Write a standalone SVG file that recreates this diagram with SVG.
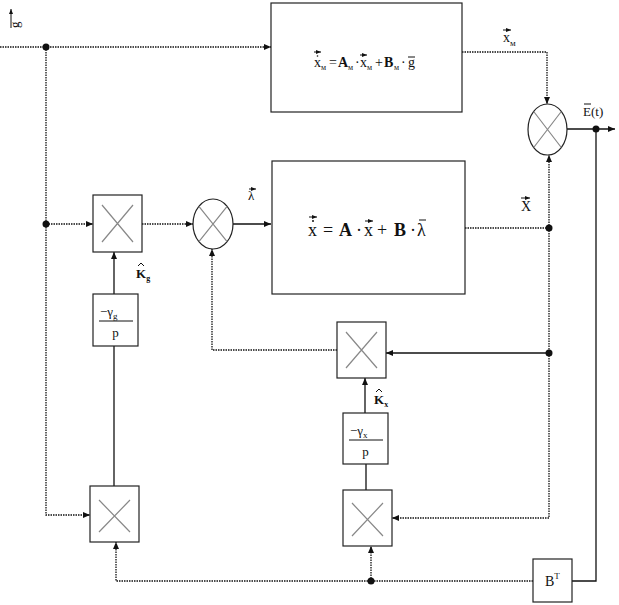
<svg xmlns="http://www.w3.org/2000/svg" width="619" height="605" viewBox="0 0 619 605">
<style>
.box{fill:#fff;stroke:#222;stroke-width:1.2}
.xl{stroke:#888;stroke-width:1.2}
.c{fill:none;stroke:#111;stroke-width:1.3}
.d{stroke-dasharray:1.5 1}
.t{font-family:"Liberation Serif",serif;fill:#111}
.b{font-weight:bold}
.ov{stroke:#111;stroke-width:1;fill:none}
</style>
<defs>
<marker id="ar" markerWidth="8" markerHeight="8" refX="7" refY="4" orient="auto" markerUnits="userSpaceOnUse">
<path d="M0,1 L7,4 L0,7 z" fill="#111"/>
</marker>
<marker id="sa" markerWidth="5" markerHeight="4" refX="5" refY="2" orient="auto" markerUnits="userSpaceOnUse">
<path d="M0,0 L5,2 L0,4 z" fill="#111"/>
</marker>
</defs>
<rect width="619" height="605" fill="#fff"/>

<g id="connectors">
<path class="c d" d="M0,47 H271" marker-end="url(#ar)"/>
<path class="c d" d="M46,47 V515 H90" marker-end="url(#ar)"/>
<path class="c d" d="M46,224 H93" marker-end="url(#ar)"/>
<path class="c d" d="M142,224 H193" marker-end="url(#ar)"/>
<path class="c" d="M233,224 H271" marker-end="url(#ar)"/>
<path class="c d" d="M462,52 H547 V104" marker-end="url(#ar)"/>
<path class="c d" d="M465,228 H549"/>
<path class="c d" d="M549,228 V155" marker-end="url(#ar)"/>
<path class="c d" d="M549,228 V518 H392" marker-end="url(#ar)"/>
<path class="c" d="M549,353 H386" marker-end="url(#ar)"/>
<path class="c d" d="M337,350 H212 V249" marker-end="url(#ar)"/>
<path class="c" d="M567,129 H615" marker-end="url(#ar)"/>
<path class="c" d="M596,129 V581 H572"/>
<path class="c d" d="M533,581 H116 V542" marker-end="url(#ar)"/>
<path class="c d" d="M371,581 V546" marker-end="url(#ar)"/>
<path class="c" d="M114,294 V252" marker-end="url(#ar)"/>
<path class="c" d="M114,486 V346"/>
<path class="c" d="M365,413 V378" marker-end="url(#ar)"/>
<path class="c" d="M366,490 V464"/>
<circle cx="46" cy="47" r="3.5" fill="#111"/>
<circle cx="46" cy="224" r="3.5" fill="#111"/>
<circle cx="549" cy="228" r="3.5" fill="#111"/>
<circle cx="549" cy="353" r="3.5" fill="#111"/>
<circle cx="596" cy="129" r="3.5" fill="#111"/>
<circle cx="371" cy="581" r="3.5" fill="#111"/>
</g>

<g id="input-label">
<text class="t" x="0" y="0" font-size="13" transform="translate(19,28) rotate(-90)">g</text>
<path class="ov" d="M11,28 V9" marker-end="url(#sa)"/>
</g>

<g id="model">
<rect class="box" x="271" y="3" width="191" height="109"/>
<text class="t" y="67" font-size="14"><tspan x="314">x</tspan><tspan x="321" y="70" font-size="8">м</tspan><tspan x="329" y="67">=</tspan><tspan x="338" class="b">A</tspan><tspan x="348" y="70" font-size="8">м</tspan><tspan x="355" y="67">·</tspan><tspan x="360">x</tspan><tspan x="367" y="70" font-size="8">м</tspan><tspan x="375" y="67">+</tspan><tspan x="384" class="b">B</tspan><tspan x="394" y="70" font-size="8">м</tspan><tspan x="401" y="67">·</tspan><tspan x="408">g</tspan></text>
<path class="ov" d="M314,52 H321" marker-end="url(#sa)"/>
<circle cx="317.5" cy="56" r="0.8" fill="#111"/>
<path class="ov" d="M360,55 H367" marker-end="url(#sa)"/>
<path class="ov" d="M408,57 H415"/>
</g>

<g id="plant">
<rect class="box" x="272" y="161" width="193" height="133"/>
<text class="t" y="236" font-size="18"><tspan x="308">x</tspan><tspan x="323">=</tspan><tspan x="339" class="b">A</tspan><tspan x="356">·</tspan><tspan x="364">x</tspan><tspan x="377">+</tspan><tspan x="394" class="b">B</tspan><tspan x="410">·</tspan><tspan x="417">λ</tspan></text>
<path class="ov" d="M309,217 H317" marker-end="url(#sa)"/>
<circle cx="313" cy="221" r="1" fill="#111"/>
<path class="ov" d="M365,221 H373" marker-end="url(#sa)"/>
<path class="ov" d="M419,220 H426"/>
</g>

<g id="sum1">
<ellipse class="box" cx="547.5" cy="129.5" rx="19.5" ry="25.5"/>
<path class="xl" d="M533.7,111.5 L561.3,147.5 M561.3,111.5 L533.7,147.5"/>
</g>

<g id="sum2">
<ellipse class="box" cx="213" cy="224" rx="20" ry="25"/>
<path class="xl" d="M198.9,206.3 L227.1,241.7 M227.1,206.3 L198.9,241.7"/>
</g>

<g id="mult-g">
<rect class="box" x="93" y="195" width="49" height="57"/>
<path class="xl" d="M102,205 L133,242 M133,205 L102,242"/>
</g>

<g id="integ-g">
<rect class="box" x="93" y="294" width="45" height="52"/>
<text class="t" x="100" y="316" font-size="13">−γ<tspan font-size="9" dy="3">g</tspan></text>
<path class="ov" d="M99,321 H133"/>
<text class="t" x="115.5" y="337" font-size="13" text-anchor="middle">p</text>
</g>

<g id="mult-x">
<rect class="box" x="337" y="322" width="49" height="56"/>
<path class="xl" d="M346,332 L377,368 M377,332 L346,368"/>
</g>

<g id="integ-x">
<rect class="box" x="343" y="413" width="45" height="51"/>
<text class="t" x="350" y="435" font-size="13">−γ<tspan font-size="9" dy="3">x</tspan></text>
<path class="ov" d="M349,440 H383"/>
<text class="t" x="365.5" y="456" font-size="13" text-anchor="middle">p</text>
</g>

<g id="mult-bl">
<rect class="box" x="90" y="486" width="49" height="56"/>
<path class="xl" d="M99,500 L130,532 M130,500 L99,532"/>
</g>

<g id="mult-br">
<rect class="box" x="343" y="490" width="49" height="56"/>
<path class="xl" d="M352,503 L383,536 M383,503 L352,536"/>
</g>

<g id="bt">
<rect class="box" x="533" y="559" width="39" height="43"/>
<text class="t" x="545" y="586" font-size="14">B<tspan font-size="9" dy="-7">T</tspan></text>
</g>

<g id="labels">
<text class="t" x="503" y="42" font-size="14">x<tspan font-size="9" dy="4">м</tspan></text>
<path class="ov" d="M503,30 H511" marker-end="url(#sa)"/>
<text class="t" x="583" y="116" font-size="13">E(t)</text>
<path class="ov" d="M584,104 H591"/>
<text class="t" x="248" y="200" font-size="13">λ</text>
<path class="ov" d="M249,189 H256" marker-end="url(#sa)"/>
<text class="t" x="521" y="211" font-size="14">X</text>
<path class="ov" d="M521,198 H530" marker-end="url(#sa)"/>
<text class="t b" x="136" y="278" font-size="13">K<tspan font-size="8" dy="3">g</tspan></text>
<path class="ov" d="M138,266 L141,263 L144,266"/>
<text class="t b" x="374" y="404" font-size="13">K<tspan font-size="8" dy="3">x</tspan></text>
<path class="ov" d="M376,392 L379,389 L382,392"/>
</g>
</svg>
